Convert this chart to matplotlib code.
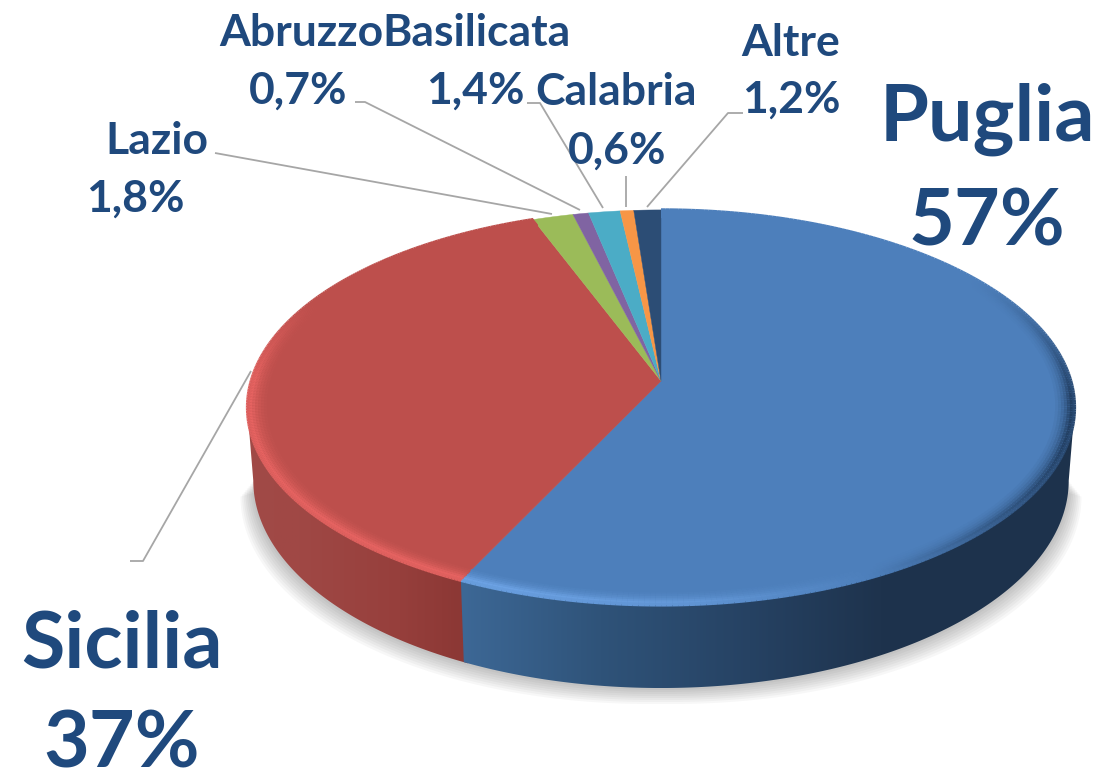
import numpy as np
from matplotlib import pyplot as plt
from matplotlib.collections import LineCollection
from matplotlib.colors import to_rgb
from matplotlib.patches import Polygon

regions = ['Puglia', 'Sicilia', 'Lazio', 'Abruzzo', 'Basilicata', 'Calabria', 'Altre']
shares = [57, 37.2, 1.8, 0.7, 1.4, 0.6, 1.2]
value_labels = ['57%', '37%', '1,8%', '0,7%', '1,4%', '0,6%', '1,2%']

colors = ['#4d7fbb', '#bd4f4c', '#9bbb59', '#8064a2', '#4bacc6', '#f79646', '#2c4d75']
text_color = '#1f497d'
line_color = '#a6a6a6'

# pie geometry, in image pixels
cx, cy = 661, 381
ax_x, ax_y, persp = 410, 194, 0.134
top_a, top_yc, top_ry = 414, 407, 198
bot_a, bot_yc, bot_ry = 408, 480, 208

# name x, name y, value x, value y, font size
label_pos = {
    'Puglia': (987, 119, 987, 224, 57),
    'Sicilia': (122, 645, 122, 745, 57),
    'Lazio': (157, 141, 135, 199, 32),
    'Abruzzo': (301, 33, 298, 91, 32),
    'Basilicata': (476, 33, 475, 91, 32),
    'Calabria': (616, 92, 617, 151, 32),
    'Altre': (791, 43, 791, 100, 32),
}

leaders = [
    [(215, 153), (552, 214)],
    [(355, 102), (365, 102), (580, 210)],
    [(527, 103), (540, 103), (603, 208)],
    [(626, 176), (626, 207)],
    [(743, 113), (728, 113), (647, 207)],
    [(251, 371), (143, 561), (130, 561)],
]


def project(theta, r=1.0):
    # theta in degrees, clockwise from the top of the pie
    t = np.radians(theta)
    u = r * np.sin(t)
    v = r * np.cos(t)
    w = 1 + persp * v
    return cx + ax_x * u / w, cy - ax_y * v / w


def lower(x, y):
    # same rim point on the underside of the pie
    return cx + (x - cx) * bot_a / top_a, bot_yc + (y - top_yc) * bot_ry / top_ry


def mix(c1, c2, f):
    return tuple(a + (b - a) * f for a, b in zip(to_rgb(c1), to_rgb(c2)))


def draw_side(ax, th1, th2, stops):
    th = np.linspace(th1, th2, 200)
    x, y = project(th)
    bx, by = lower(x, y)
    pts = list(zip(x, y)) + list(zip(bx[::-1], by[::-1]))
    clip = Polygon(pts, closed=True, transform=ax.transData, fc='none', ec='none')
    ax.add_patch(clip)
    xs = np.linspace(x.min(), x.max(), 300)
    rgb = np.array([to_rgb(c) for c in stops[1]])
    img = np.stack([np.interp(xs, stops[0], rgb[:, i]) for i in range(3)], axis=-1)
    im = ax.imshow(img[np.newaxis, :, :], extent=(x.min(), x.max(), by.max(), y.min()),
                   aspect='auto', interpolation='bilinear', zorder=2)
    im.set_clip_path(clip)


def rim_weight(x, th):
    # the bevel catches light on the left and goes dark towards the right
    w = np.interp(x, [247, 500, 700, 850, 1000, 1075], [1, 1, 0.7, 0.1, -0.6, -1])
    # fades out towards the back of the pie
    fade = np.interp(th, [55, 95, 270, 295], [0, 1, 1, 0])
    return w * fade


fig = plt.figure(figsize=(10.99, 7.72), dpi=100)
ax = fig.add_axes([0, 0, 1, 1])
ax.set_xlim(0, 1099)
ax.set_ylim(772, 0)
ax.axis('off')

plt.rcParams['font.family'] = ['Lato', 'DejaVu Sans']

fractions = np.array(shares) / sum(shares) * 360
edges = np.concatenate([[0], np.cumsum(fractions)])

# angle where the top face is widest, the side runs straight down from there
wide = np.degrees(np.arccos(-persp))

# soft shadow under the pie
th = np.linspace(wide, 360 - wide, 200)
sx, sy = lower(*project(th))
for grow in range(16, 0, -2):
    pts = list(zip(sx + np.sign(sx - cx) * grow * 0.8, sy + grow)) + [(cx, cy)]
    ax.add_patch(Polygon(pts, closed=True, fc='#000000', ec='none', alpha=0.03, zorder=1))

# sides, only the two big slices can be seen from the front
# red goes first and runs a little under the blue so no seam shows
draw_side(ax, edges[1] - 1, 360 - wide, ([247, 300, 400, 460], ['#a04a47', '#a04845', '#963f3c', '#8c3835']))
draw_side(ax, wide, edges[1], ([460, 600, 750, 880, 1075], ['#3d6896', '#2f5379', '#264263', '#1e334d', '#1d324c']))

# top face
for i, name in enumerate(regions):
    th = np.linspace(edges[i], edges[i + 1], 150)
    x, y = project(th)
    pts = [(cx, cy)] + list(zip(x, y))
    ax.add_patch(Polygon(pts, closed=True, fc=colors[i], ec=colors[i], lw=0.3, zorder=3))

# bevel along the rim of the two big slices
bevels = [(0, edges[1], colors[0], '#6ea4e6', '#1f3a5c'), (edges[1], edges[2], colors[1], '#e86462', '#6e2c2a')]
rings = [(0.958, 0.08), (0.965, 0.18), (0.972, 0.32), (0.979, 0.5), (0.986, 0.75), (0.993, 0.95), (0.999, 0.8)]
for th1, th2, base, light, dark in bevels:
    for r, strength in rings:
        th = np.linspace(th1, th2, 300)
        x, y = project(th, r)
        segs = [[(x[k], y[k]), (x[k + 1], y[k + 1])] for k in range(len(x) - 1)]
        cols = []
        for k in range(len(x) - 1):
            w = rim_weight(x[k], th[k]) * strength
            cols.append(mix(base, light, w) if w > 0 else mix(base, dark, -w))
        ax.add_collection(LineCollection(segs, colors=cols, linewidths=2.6, capstyle='butt', zorder=4))

# leader lines
for pts in leaders:
    xs, ys = zip(*pts)
    ax.plot(xs, ys, color=line_color, lw=1.3, solid_capstyle='butt', zorder=5)

# labels
for name, value in zip(regions, value_labels):
    nx, ny, vx, vy, size = label_pos[name]
    for tx, ty, s in [(nx, ny, name), (vx, vy, value)]:
        ax.text(tx, ty, s, color=text_color, fontsize=size, fontweight='bold',
                ha='center', va='center', zorder=6)

plt.savefig('out.png', dpi=100)
plt.close(fig)
